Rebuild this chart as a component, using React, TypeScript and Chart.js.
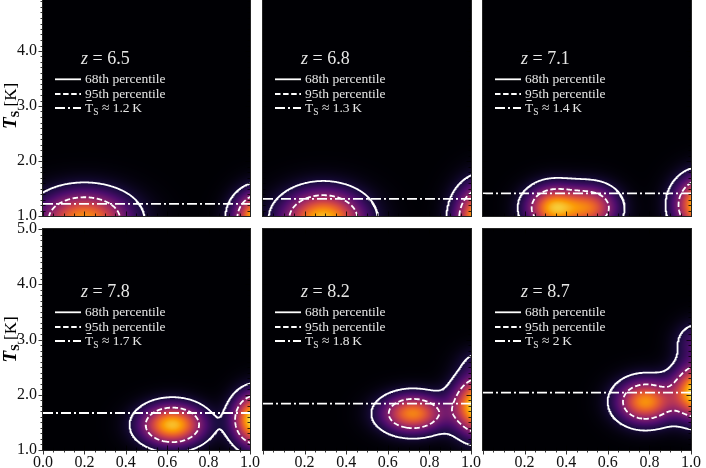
import React, { useEffect, useRef } from 'react';
import { Chart, registerables } from 'chart.js';

Chart.register(...registerables);

// ---------------- data ----------------
const REDSHIFTS = ['6.5', '6.8', '7.1', '7.8', '8.2', '8.7'];
const MEAN_TS = [1.22, 1.31, 1.41, 1.67, 1.84, 2.04];
const MEAN_TS_LABELS = ['1.2', '1.3', '1.4', '1.7', '1.8', '2'];
const X_TICKS = [0, 0.2, 0.4, 0.6, 0.8, 1.0];
const Y_TICKS = [1, 2, 3, 4, 5];
const X_RANGE = [0, 1];
const Y_RANGE = [1, 5];
const CONTOUR_LEVELS = [0.1, 0.37]; // solid (68th), dashed (95th)
const LEGEND_LABELS = ['68th percentile', '95th percentile'];

// density components: [x centre, T centre, x width, T width, peak]
const BLOBS_Z65 = [[0.2, 0.95, 0.1445, 0.329, 0.75], [1.05, 0.95, 0.079, 0.312, 1.0]];
const BLOBS_Z68 = [[0.29, 0.95, 0.127, 0.332, 0.85], [1.06, 0.95, 0.083, 0.39, 1.0]];
const BLOBS_Z71 = [[0.34, 1.15, 0.085, 0.26, 0.8], [0.52, 1.15, 0.085, 0.26, 0.6], [1.06, 1.2, 0.085, 0.33, 1.0]];
const BLOBS_Z78 = [[0.625, 1.455, 0.1, 0.242, 0.85], [1.03, 1.55, 0.0715, 0.31, 1.0]];
const BLOBS_Z82 = [[0.72, 1.66, 0.1, 0.229, 0.72], [1.04, 1.8, 0.08, 0.34, 1.0], [1.04, 2.6, 0.07, 0.2, 0.1]];
const BLOBS_Z87 = [[0.78, 1.875, 0.09, 0.26, 0.75], [1.04, 2.05, 0.08, 0.32, 1.0], [1.03, 2.95, 0.07, 0.25, 0.22]];
const PANEL_BLOBS = [BLOBS_Z65, BLOBS_Z68, BLOBS_Z71, BLOBS_Z78, BLOBS_Z82, BLOBS_Z87];

// ---------------- style / layout ----------------
const SERIF = '"Liberation Serif", "DejaVu Serif", serif';
const TEXT_COLOR = '#e6e6e6';
const INFERNO = ['#000004', '#1b0c42', '#4b0c6b', '#781c6d', '#a52c60', '#cf4446', '#ed6925', '#fb9a06', '#f7d03c', '#fcffa4'];
const CANVAS_W = 706;
const CANVAS_H = 480;
const OFFSET = 12;
const COL_LEFT = [43, 263, 483];
const COL_W = [207, 208, 208];
const ROW_TOP = [-4, 229];
const ROW_H = [220, 221];
const Y_AXIS_W = 43;
const X_AXIS_H = 18;

const INFERNO_RGB = INFERNO.map((h) => [parseInt(h.slice(1, 3), 16), parseInt(h.slice(3, 5), 16), parseInt(h.slice(5, 7), 16)]);
function inferno(t: number): number[] {
  const v = Math.max(0, Math.min(1, t)) * (INFERNO_RGB.length - 1);
  const i = Math.min(INFERNO_RGB.length - 2, Math.floor(v));
  const f = v - i;
  const a = INFERNO_RGB[i], b = INFERNO_RGB[i + 1];
  return [a[0] + (b[0] - a[0]) * f, a[1] + (b[1] - a[1]) * f, a[2] + (b[2] - a[2]) * f];
}

function density(blobs: number[][], x: number, y: number): number {
  let s = 0;
  for (const [cx, cy, sx, sy, amp] of blobs) {
    const u = (x - cx) / sx, w = (y - cy) / sy;
    s += amp * Math.exp(-0.5 * (u * u + w * w));
  }
  return s;
}

// marching squares + chaining into polylines (data coordinates)
function contourLines(blobs: number[][], level: number) {
  const x0 = -0.4, x1 = 1.5, y0 = -0.5, y1 = 4.6, dx = 0.005, dy = 0.015;
  const nx = Math.round((x1 - x0) / dx) + 1;
  const ny = Math.round((y1 - y0) / dy) + 1;
  const v = new Float64Array(nx * ny);
  for (let j = 0; j < ny; j++) for (let i = 0; i < nx; i++) v[j * nx + i] = density(blobs, x0 + i * dx, y0 + j * dy);
  const pts = new Map<number, { x: number; y: number }>();
  const segs: number[][] = [];
  const pt = (key: number, xa: number, ya: number, va: number, xb: number, yb: number, vb: number) => {
    if (!pts.has(key)) {
      const t = (level - va) / (vb - va);
      pts.set(key, { x: xa + t * (xb - xa), y: ya + t * (yb - ya) });
    }
    return key;
  };
  for (let j = 0; j < ny - 1; j++) {
    for (let i = 0; i < nx - 1; i++) {
      const a = v[j * nx + i], b = v[j * nx + i + 1], c = v[(j + 1) * nx + i + 1], d = v[(j + 1) * nx + i];
      const idx = (a > level ? 1 : 0) | (b > level ? 2 : 0) | (c > level ? 4 : 0) | (d > level ? 8 : 0);
      if (idx === 0 || idx === 15) continue;
      const X = x0 + i * dx, Y = y0 + j * dy;
      const B = () => pt(2 * (j * nx + i), X, Y, a, X + dx, Y, b);
      const T = () => pt(2 * ((j + 1) * nx + i), X, Y + dy, d, X + dx, Y + dy, c);
      const L = () => pt(2 * (j * nx + i) + 1, X, Y, a, X, Y + dy, d);
      const R = () => pt(2 * (j * nx + i + 1) + 1, X + dx, Y, b, X + dx, Y + dy, c);
      const add = (p: number, q: number) => segs.push([p, q]);
      const ctr = (a + b + c + d) / 4;
      switch (idx) {
        case 1: case 14: add(L(), B()); break;
        case 2: case 13: add(B(), R()); break;
        case 3: case 12: add(L(), R()); break;
        case 4: case 11: add(R(), T()); break;
        case 6: case 9: add(B(), T()); break;
        case 7: case 8: add(L(), T()); break;
        case 5:
          if (ctr > level) { add(B(), R()); add(L(), T()); } else { add(L(), B()); add(R(), T()); }
          break;
        case 10:
          if (ctr > level) { add(L(), B()); add(R(), T()); } else { add(B(), R()); add(L(), T()); }
          break;
      }
    }
  }
  const adj = new Map<number, number[]>();
  segs.forEach((s, k) => {
    for (const e of s) {
      if (!adj.has(e)) adj.set(e, []);
      adj.get(e)!.push(k);
    }
  });
  const used = new Uint8Array(segs.length);
  const lines: { x: number; y: number }[][] = [];
  const walk = (start: number, out: number[]) => {
    let cur = start;
    for (;;) {
      const list = adj.get(cur) || [];
      let next = -1;
      for (const s of list) if (!used[s]) { next = s; break; }
      if (next < 0) break;
      used[next] = 1;
      const [p, q] = segs[next];
      cur = p === cur ? q : p;
      out.push(cur);
    }
  };
  for (let k = 0; k < segs.length; k++) {
    if (used[k]) continue;
    used[k] = 1;
    const [e0, e1] = segs[k];
    const fwd = [e0, e1];
    walk(e1, fwd);
    if (fwd[fwd.length - 1] !== e0) {
      const back: number[] = [];
      walk(e0, back);
      back.reverse();
      fwd.unshift(...back);
    }
    lines.push(fwd.map((e) => pts.get(e)!));
  }
  return lines;
}

function buildConfig(idx: number): any {
  const row = idx < 3 ? 0 : 1;
  const col = idx % 3;
  const blobs = PANEL_BLOBS[idx];
  const showX = row === 1;
  const showY = col === 0;
  const top = ROW_TOP[row] + OFFSET;
  const bottom = top + ROW_H[row];
  const left = COL_LEFT[col];
  const right = left + COL_W[col];

  const datasets: any[] = [];
  CONTOUR_LEVELS.forEach((lvl, li) => {
    contourLines(blobs, lvl).forEach((line) => {
      datasets.push({
        data: line, showLine: true, borderColor: '#ffffff', borderWidth: 1.8,
        borderDash: li === 0 ? [] : [5.5, 2.6], pointRadius: 0, tension: 0,
      });
    });
  });
  datasets.push({
    data: [{ x: X_RANGE[0], y: MEAN_TS[idx] }, { x: X_RANGE[1], y: MEAN_TS[idx] }],
    showLine: true, borderColor: '#ffffff', borderWidth: 1.8, borderDash: [10, 3, 2, 3], pointRadius: 0,
  });

  const heatmap = {
    id: 'heatmap' + idx,
    beforeDatasetsDraw(chart: any) {
      const { ctx, chartArea, scales } = chart;
      const L = Math.round(chartArea.left), T = Math.round(chartArea.top);
      const W = Math.round(chartArea.width), H = Math.round(chartArea.height);
      const img = ctx.createImageData(W, H);
      const xs = new Float64Array(W);
      for (let i = 0; i < W; i++) xs[i] = scales.x.getValueForPixel(L + i + 0.5);
      for (let j = 0; j < H; j++) {
        const yv = scales.y.getValueForPixel(T + j + 0.5);
        for (let i = 0; i < W; i++) {
          const c = inferno(density(blobs, xs[i], yv));
          const o = (j * W + i) * 4;
          img.data[o] = c[0]; img.data[o + 1] = c[1]; img.data[o + 2] = c[2]; img.data[o + 3] = 255;
        }
      }
      ctx.putImageData(img, L, T);
    },
  };

  const decor = {
    id: 'decor' + idx,
    afterDatasetsDraw(chart: any) {
      const { ctx, chartArea: a, scales } = chart;
      ctx.save();
      // ticks
      ctx.strokeStyle = '#000';
      ctx.lineWidth = 0.8;
      ctx.beginPath();
      for (let k = 0; k <= 20; k++) {
        const px = Math.round(scales.x.getPixelForValue(k * 0.05)) + 0.5;
        const len = k % 4 === 0 ? 4.5 : 2.5;
        ctx.moveTo(px, a.bottom); ctx.lineTo(px, a.bottom - len);
        ctx.moveTo(px, a.top); ctx.lineTo(px, a.top + len);
        if (showX) { ctx.moveTo(px, a.bottom); ctx.lineTo(px, a.bottom + len); }
      }
      for (let k = 0; k <= 40; k++) {
        const py = Math.round(scales.y.getPixelForValue(Y_RANGE[0] + k * 0.1)) + 0.5;
        const len = k % 10 === 0 ? 4.5 : 2.5;
        ctx.moveTo(a.left, py); ctx.lineTo(a.left + len, py);
        ctx.moveTo(a.right, py); ctx.lineTo(a.right - len, py);
        if (showY) { ctx.moveTo(a.left, py); ctx.lineTo(a.left - len, py); }
      }
      ctx.stroke();
      ctx.strokeStyle = '#222';
      ctx.lineWidth = 1;
      ctx.strokeRect(a.left - 0.5, a.top - 0.5, a.width + 1, a.height + 1);

      // legend box content
      const L = a.left, T = a.top;
      ctx.fillStyle = TEXT_COLOR;
      ctx.textBaseline = 'alphabetic';
      let tx = L + 38;
      const ty = T + 67.5;
      ctx.font = `italic 18px ${SERIF}`;
      ctx.fillText('z', tx, ty);
      tx += ctx.measureText('z').width;
      ctx.font = `18px ${SERIF}`;
      ctx.fillText(` = ${REDSHIFTS[idx]}`, tx, ty);

      const rows = [83.3, 98, 112];
      const dashes = [[], [5.5, 2.6], [10, 3, 2, 3]];
      ctx.strokeStyle = '#ffffff';
      ctx.lineWidth = 1.8;
      rows.forEach((ry, r) => {
        ctx.setLineDash(dashes[r]);
        ctx.beginPath();
        ctx.moveTo(L + 12, T + ry);
        ctx.lineTo(L + 38, T + ry);
        ctx.stroke();
      });
      ctx.setLineDash([]);
      ctx.font = `13.5px ${SERIF}`;
      ctx.fillText(LEGEND_LABELS[0], L + 42, T + rows[0] + 4);
      ctx.fillText(LEGEND_LABELS[1], L + 42, T + rows[1] + 4);
      let x3 = L + 42;
      const b3 = T + rows[2] + 4;
      ctx.fillText('T', x3, b3);
      const wT = ctx.measureText('T').width;
      ctx.fillRect(x3 + 1.5, b3 - 12, wT - 3, 1);
      x3 += wT;
      ctx.font = `9.5px ${SERIF}`;
      ctx.fillText('S', x3, b3 + 2.5);
      x3 += ctx.measureText('S').width;
      ctx.font = `13.5px ${SERIF}`;
      ctx.fillText(` \u2248 ${MEAN_TS_LABELS[idx]}\u2009K`, x3, b3);

      // y-axis title
      if (showY) {
        ctx.fillStyle = '#000';
        ctx.translate(15.5, (a.top + a.bottom) / 2);
        ctx.rotate(-Math.PI / 2);
        ctx.font = `bold italic 19px ${SERIF}`;
        const w1 = ctx.measureText('T').width;
        ctx.font = `bold 12px ${SERIF}`;
        const w2 = ctx.measureText('S').width;
        ctx.font = `17px ${SERIF}`;
        const w3 = ctx.measureText(' [K]').width;
        let x = -(w1 + w2 + w3) / 2;
        ctx.font = `bold italic 19px ${SERIF}`;
        ctx.fillText('T', x, 0);
        x += w1;
        ctx.font = `bold 12px ${SERIF}`;
        ctx.fillText('S', x, 3.5);
        x += w2;
        ctx.font = `17px ${SERIF}`;
        ctx.fillText(' [K]', x, 0);
      }
      ctx.restore();
    },
  };

  return {
    type: 'scatter',
    data: { datasets },
    plugins: [heatmap, decor],
    options: {
      responsive: false,
      maintainAspectRatio: false,
      animation: false,
      devicePixelRatio: 1,
      events: [],
      layout: {
        autoPadding: false,
        padding: {
          left: showY ? left - Y_AXIS_W : left,
          right: CANVAS_W - right,
          top,
          bottom: CANVAS_H - bottom - (showX ? X_AXIS_H : 0),
        },
      },
      plugins: { legend: { display: false }, tooltip: { enabled: false } },
      scales: {
        x: {
          type: 'linear', min: X_RANGE[0], max: X_RANGE[1], display: showX,
          grid: { display: false, drawTicks: false }, border: { display: false },
          afterBuildTicks: (axis: any) => { axis.ticks = X_TICKS.map((v) => ({ value: v })); },
          afterFit: (s: any) => {
            s.height = showX ? X_AXIS_H : 0;
            s.paddingLeft = 0; s.paddingRight = 0; s.paddingTop = 0; s.paddingBottom = 0;
          },
          ticks: {
            autoSkip: false, maxRotation: 0, padding: 3, color: '#111',
            font: { family: SERIF, size: 16 },
            callback: (v: any) => (col > 0 && Number(v) === 0 ? '' : Number(v).toFixed(1)),
          },
        },
        y: {
          type: 'linear', min: Y_RANGE[0], max: Y_RANGE[1], display: showY,
          grid: { display: false, drawTicks: false }, border: { display: false },
          afterBuildTicks: (axis: any) => { axis.ticks = Y_TICKS.map((v) => ({ value: v })); },
          afterFit: (s: any) => {
            s.width = showY ? Y_AXIS_W : 0;
            s.paddingLeft = 0; s.paddingRight = 0; s.paddingTop = 0; s.paddingBottom = 0;
          },
          ticks: {
            autoSkip: false, padding: 6, color: '#111',
            font: { family: SERIF, size: 16 },
            callback: (v: any) => Number(v).toFixed(1),
          },
        },
      },
    },
  };
}

function Panel({ idx }: { idx: number }) {
  const ref = useRef<HTMLCanvasElement>(null);
  useEffect(() => {
    if (!ref.current) return;
    const chart = new Chart(ref.current, buildConfig(idx));
    return () => chart.destroy();
  }, [idx]);
  return (
    <canvas
      ref={ref}
      width={CANVAS_W}
      height={CANVAS_H}
      style={{ position: 'absolute', left: 0, top: -OFFSET, width: CANVAS_W, height: CANVAS_H }}
    />
  );
}

export default function App() {
  return (
    <div style={{ position: 'absolute', left: 0, top: 0, width: 706, height: 468, overflow: 'hidden', background: '#fff' }}>
      {REDSHIFTS.map((_, i) => (
        <Panel key={i} idx={i} />
      ))}
    </div>
  );
}
